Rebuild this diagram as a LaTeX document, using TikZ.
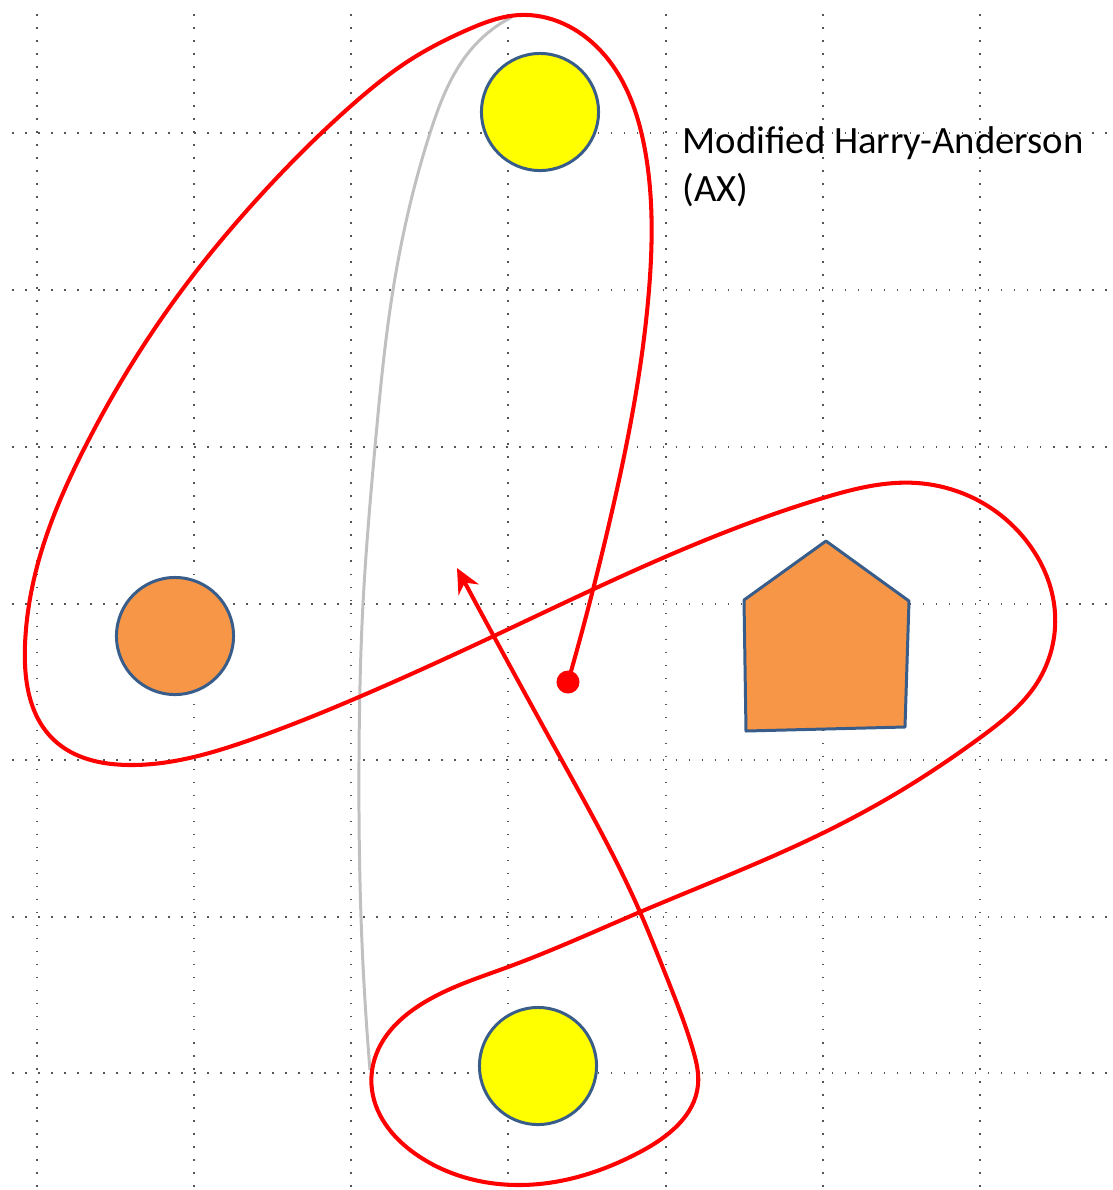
\documentclass[tikz,border=0pt]{standalone}
\usepackage{fontspec}
\setmainfont{Carlito}
\definecolor{PathRed}{RGB}{255,0,0}
\definecolor{BallYellow}{RGB}{255,255,0}
\definecolor{PlayerOrange}{RGB}{247,150,70}
\definecolor{EdgeBlue}{RGB}{56,93,138}
\definecolor{GridDot}{RGB}{85,85,85}
\definecolor{TrackGray}{RGB}{192,192,192}
\usetikzlibrary{arrows.meta,calc,hobby}

\begin{document}
\begin{tikzpicture}[x=0.01cm,y=-0.01cm,
  grid/.style={GridDot,line width=0.5pt,dash pattern=on 0.45pt off 3.25pt},
  ball/.style={circle,draw=EdgeBlue,line width=0.85pt,minimum size=1.17cm,inner sep=0pt}]
  \useasboundingbox (0,0) rectangle (1113,1190);
  \foreach \gx in {37,194,351,508,666,823,980}
    \draw[grid] (\gx,14) -- (\gx,1190);
  \foreach \gy in {133,290,447,604,760,917,1073}
    \draw[grid] (12,\gy) -- (1113,\gy);

  \coordinate (trackstart) at (512,17);
  \coordinate (trackend) at (370,1070);
  \draw[TrackGray,line width=0.85pt] (trackstart) to[curve through={(475,45) .. (430,133) .. (393,290) .. (375,447) .. (363,604) .. (359,760) .. (361,917)}] (trackend);

  \node[ball,fill=BallYellow] (topball) at (540,112) {};
  \node[ball,fill=PlayerOrange] (leftplayer) at (175,636) {};
  \node[ball,fill=BallYellow] (bottomball) at (538,1066) {};
  \draw[EdgeBlue,fill=PlayerOrange,line width=0.85pt,line join=round] (826,541) -- (909,601) -- (905,727) -- (746,731) -- (744,600) -- cycle;

  \node[anchor=base west,align=left,inner sep=0pt,font=\fontsize{11}{13.4}\selectfont] (label) at (682,201) {Modified Harry-Anderson\\(AX)};

  \node[circle,fill=PathRed,minimum size=0.23cm,inner sep=0pt] (dot) at (568,682) {};
  \coordinate (tip) at (457,568);
  \draw[PathRed,line width=1.15pt,-{Stealth[length=7pt,width=6.5pt]}] (dot.center) to[curve through={
    (610,520) .. (649,290) .. (645,150) .. (600,50) .. (520,15) .. (467,30) .. (410,60) .. (352,105) .. (250,207) .. (182,290) .. (85,447) .. (38,563) .. (25,645) .. (54,740) .. (129,765)
    .. (250,740) .. (359,697) .. (496,635) .. (665,557) .. (823,498) .. (917,483) .. (1033,550) .. (1055,613) .. (1037,683) .. (981,737) .. (902,790) .. (825,832) .. (700,887) .. (640,912)
    .. (508,967) .. (420,1005) .. (378,1050) .. (372,1090) .. (420,1157) .. (520,1185) .. (640,1152) .. (698,1085) .. (693,1050) .. (665,973) .. (640,912)
    .. (560,757)}] (tip);
\end{tikzpicture}
\end{document}
